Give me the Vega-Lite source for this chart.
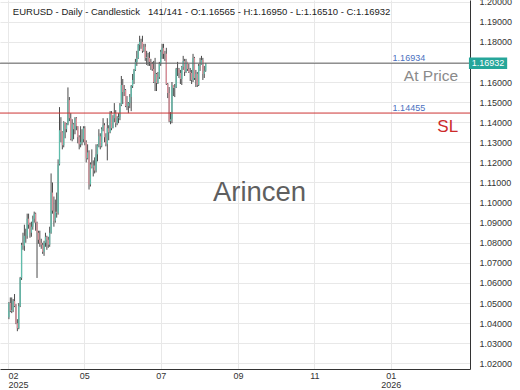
{
  "$schema": "https://vega.github.io/schema/vega-lite/v6.json",
  "width": 470,
  "height": 369,
  "autosize": {"type": "none"},
  "padding": {"left": 0, "top": 0, "right": 50, "bottom": 21},
  "background": "white",
  "config": {
    "font": "Liberation Sans",
    "view": {"stroke": null},
    "axisY": {"tickCount": 19, "labelOverlap": false, "labelSeparation": 0, "ticks": false, "labelPadding": 9, "labelFontSize": 9, "labelColor": "#333", "gridColor": "#e8e8e8", "domainColor": "#333", "title": null},
    "axisX": {"ticks": false, "labelFontSize": 9, "labelColor": "#333", "gridColor": "#e8e8e8", "domainColor": "#333", "labelPadding": 2, "labelOverlap": false, "title": null}
  },
  "datasets": {
    "candles": [
      {"i":0,"o":1.0430,"h":1.0505,"l":1.0420,"c":1.0500},
      {"i":1,"o":1.0500,"h":1.0528,"l":1.0455,"c":1.0460},
      {"i":2,"o":1.0460,"h":1.0528,"l":1.0450,"c":1.0465},
      {"i":3,"o":1.0465,"h":1.0520,"l":1.0455,"c":1.0510},
      {"i":4,"o":1.0510,"h":1.0545,"l":1.0480,"c":1.0485},
      {"i":5,"o":1.0485,"h":1.0495,"l":1.0395,"c":1.0400},
      {"i":6,"o":1.0400,"h":1.0420,"l":1.0360,"c":1.0375},
      {"i":7,"o":1.0375,"h":1.0500,"l":1.0370,"c":1.0485},
      {"i":8,"o":1.0485,"h":1.0630,"l":1.0480,"c":1.0625},
      {"i":9,"o":1.0625,"h":1.0800,"l":1.0615,"c":1.0790},
      {"i":10,"o":1.0790,"h":1.0850,"l":1.0765,"c":1.0785},
      {"i":11,"o":1.0785,"h":1.0890,"l":1.0760,"c":1.0835},
      {"i":12,"o":1.0835,"h":1.0870,"l":1.0800,"c":1.0835},
      {"i":13,"o":1.0835,"h":1.0945,"l":1.0820,"c":1.0920},
      {"i":14,"o":1.0920,"h":1.0945,"l":1.0870,"c":1.0890},
      {"i":15,"o":1.0890,"h":1.0900,"l":1.0825,"c":1.0850},
      {"i":16,"o":1.0850,"h":1.0905,"l":1.0830,"c":1.0880},
      {"i":17,"o":1.0880,"h":1.0935,"l":1.0865,"c":1.0920},
      {"i":18,"o":1.0920,"h":1.0955,"l":1.0900,"c":1.0945},
      {"i":19,"o":1.0945,"h":1.0950,"l":1.0860,"c":1.0900},
      {"i":20,"o":1.0900,"h":1.0905,"l":1.0625,"c":1.0850},
      {"i":21,"o":1.0850,"h":1.0860,"l":1.0795,"c":1.0815},
      {"i":22,"o":1.0815,"h":1.0860,"l":1.0780,"c":1.0800},
      {"i":23,"o":1.0800,"h":1.0820,"l":1.0770,"c":1.0790},
      {"i":24,"o":1.0790,"h":1.0800,"l":1.0745,"c":1.0755},
      {"i":25,"o":1.0755,"h":1.0810,"l":1.0735,"c":1.0800},
      {"i":26,"o":1.0800,"h":1.0850,"l":1.0780,"c":1.0830},
      {"i":27,"o":1.0830,"h":1.0835,"l":1.0765,"c":1.0815},
      {"i":28,"o":1.0815,"h":1.0830,"l":1.0775,"c":1.0790},
      {"i":29,"o":1.0790,"h":1.0880,"l":1.0780,"c":1.0850},
      {"i":30,"o":1.0850,"h":1.1145,"l":1.0845,"c":1.1050},
      {"i":31,"o":1.1050,"h":1.1100,"l":1.0945,"c":1.0960},
      {"i":32,"o":1.0960,"h":1.1030,"l":1.0880,"c":1.0910},
      {"i":33,"o":1.0910,"h":1.1015,"l":1.0900,"c":1.0955},
      {"i":34,"o":1.0955,"h":1.1050,"l":1.0925,"c":1.0950},
      {"i":35,"o":1.0950,"h":1.1215,"l":1.0940,"c":1.1190},
      {"i":36,"o":1.1190,"h":1.1475,"l":1.1185,"c":1.1360},
      {"i":37,"o":1.1360,"h":1.1425,"l":1.1300,"c":1.1350},
      {"i":38,"o":1.1350,"h":1.1355,"l":1.1265,"c":1.1285},
      {"i":39,"o":1.1285,"h":1.1405,"l":1.1275,"c":1.1400},
      {"i":40,"o":1.1400,"h":1.1400,"l":1.1320,"c":1.1365},
      {"i":41,"o":1.1365,"h":1.1395,"l":1.1350,"c":1.1390},
      {"i":42,"o":1.1390,"h":1.1573,"l":1.1385,"c":1.1510},
      {"i":43,"o":1.1510,"h":1.1525,"l":1.1405,"c":1.1420},
      {"i":44,"o":1.1420,"h":1.1445,"l":1.1310,"c":1.1315},
      {"i":45,"o":1.1315,"h":1.1415,"l":1.1305,"c":1.1390},
      {"i":46,"o":1.1390,"h":1.1395,"l":1.1315,"c":1.1365},
      {"i":47,"o":1.1365,"h":1.1425,"l":1.1340,"c":1.1420},
      {"i":48,"o":1.1420,"h":1.1425,"l":1.1360,"c":1.1380},
      {"i":49,"o":1.1380,"h":1.1380,"l":1.1295,"c":1.1325},
      {"i":50,"o":1.1325,"h":1.1335,"l":1.1265,"c":1.1290},
      {"i":51,"o":1.1290,"h":1.1380,"l":1.1275,"c":1.1300},
      {"i":52,"o":1.1300,"h":1.1365,"l":1.1285,"c":1.1315},
      {"i":53,"o":1.1315,"h":1.1380,"l":1.1300,"c":1.1370},
      {"i":54,"o":1.1370,"h":1.1380,"l":1.1285,"c":1.1300},
      {"i":55,"o":1.1300,"h":1.1310,"l":1.1200,"c":1.1220},
      {"i":56,"o":1.1220,"h":1.1290,"l":1.1215,"c":1.1250},
      {"i":57,"o":1.1250,"h":1.1260,"l":1.1065,"c":1.1090},
      {"i":58,"o":1.1090,"h":1.1200,"l":1.1080,"c":1.1190},
      {"i":59,"o":1.1190,"h":1.1265,"l":1.1170,"c":1.1175},
      {"i":60,"o":1.1175,"h":1.1210,"l":1.1130,"c":1.1185},
      {"i":61,"o":1.1185,"h":1.1225,"l":1.1145,"c":1.1160},
      {"i":62,"o":1.1160,"h":1.1290,"l":1.1150,"c":1.1240},
      {"i":63,"o":1.1240,"h":1.1290,"l":1.1205,"c":1.1285},
      {"i":64,"o":1.1285,"h":1.1365,"l":1.1275,"c":1.1330},
      {"i":65,"o":1.1330,"h":1.1345,"l":1.1265,"c":1.1280},
      {"i":66,"o":1.1280,"h":1.1375,"l":1.1275,"c":1.1365},
      {"i":67,"o":1.1365,"h":1.1420,"l":1.1355,"c":1.1385},
      {"i":68,"o":1.1385,"h":1.1395,"l":1.1300,"c":1.1325},
      {"i":69,"o":1.1325,"h":1.1345,"l":1.1280,"c":1.1290},
      {"i":70,"o":1.1290,"h":1.1420,"l":1.1210,"c":1.1370},
      {"i":71,"o":1.1370,"h":1.1385,"l":1.1310,"c":1.1350},
      {"i":72,"o":1.1350,"h":1.1455,"l":1.1345,"c":1.1445},
      {"i":73,"o":1.1445,"h":1.1455,"l":1.1360,"c":1.1370},
      {"i":74,"o":1.1370,"h":1.1435,"l":1.1370,"c":1.1420},
      {"i":75,"o":1.1420,"h":1.1495,"l":1.1400,"c":1.1445},
      {"i":76,"o":1.1445,"h":1.1460,"l":1.1375,"c":1.1395},
      {"i":77,"o":1.1395,"h":1.1430,"l":1.1385,"c":1.1420},
      {"i":78,"o":1.1420,"h":1.1445,"l":1.1395,"c":1.1425},
      {"i":79,"o":1.1425,"h":1.1495,"l":1.1410,"c":1.1485},
      {"i":80,"o":1.1485,"h":1.1630,"l":1.1480,"c":1.1585},
      {"i":81,"o":1.1585,"h":1.1615,"l":1.1490,"c":1.1550},
      {"i":82,"o":1.1550,"h":1.1585,"l":1.1530,"c":1.1560},
      {"i":83,"o":1.1560,"h":1.1565,"l":1.1475,"c":1.1480},
      {"i":84,"o":1.1480,"h":1.1530,"l":1.1460,"c":1.1480},
      {"i":85,"o":1.1480,"h":1.1500,"l":1.1445,"c":1.1495},
      {"i":86,"o":1.1495,"h":1.1540,"l":1.1470,"c":1.1525},
      {"i":87,"o":1.1525,"h":1.1585,"l":1.1455,"c":1.1580},
      {"i":88,"o":1.1580,"h":1.1640,"l":1.1570,"c":1.1610},
      {"i":89,"o":1.1610,"h":1.1665,"l":1.1590,"c":1.1660},
      {"i":90,"o":1.1660,"h":1.1715,"l":1.1655,"c":1.1700},
      {"i":91,"o":1.1700,"h":1.1755,"l":1.1680,"c":1.1720},
      {"i":92,"o":1.1720,"h":1.1790,"l":1.1715,"c":1.1785},
      {"i":93,"o":1.1785,"h":1.1830,"l":1.1755,"c":1.1800},
      {"i":94,"o":1.1800,"h":1.1815,"l":1.1765,"c":1.1800},
      {"i":95,"o":1.1800,"h":1.1830,"l":1.1745,"c":1.1755},
      {"i":96,"o":1.1755,"h":1.1790,"l":1.1750,"c":1.1775},
      {"i":97,"o":1.1775,"h":1.1790,"l":1.1705,"c":1.1720},
      {"i":98,"o":1.1720,"h":1.1755,"l":1.1685,"c":1.1725},
      {"i":99,"o":1.1725,"h":1.1745,"l":1.1680,"c":1.1720},
      {"i":100,"o":1.1720,"h":1.1750,"l":1.1680,"c":1.1700},
      {"i":101,"o":1.1700,"h":1.1715,"l":1.1660,"c":1.1690},
      {"i":102,"o":1.1690,"h":1.1700,"l":1.1655,"c":1.1665},
      {"i":103,"o":1.1665,"h":1.1705,"l":1.1595,"c":1.1600},
      {"i":104,"o":1.1600,"h":1.1720,"l":1.1555,"c":1.1640},
      {"i":105,"o":1.1640,"h":1.1645,"l":1.1555,"c":1.1595},
      {"i":106,"o":1.1595,"h":1.1650,"l":1.1590,"c":1.1625},
      {"i":107,"o":1.1625,"h":1.1700,"l":1.1615,"c":1.1690},
      {"i":108,"o":1.1690,"h":1.1760,"l":1.1680,"c":1.1750},
      {"i":109,"o":1.1750,"h":1.1790,"l":1.1715,"c":1.1770},
      {"i":110,"o":1.1770,"h":1.1790,"l":1.1715,"c":1.1740},
      {"i":111,"o":1.1740,"h":1.1755,"l":1.1705,"c":1.1740},
      {"i":112,"o":1.1740,"h":1.1770,"l":1.1585,"c":1.1590},
      {"i":113,"o":1.1590,"h":1.1595,"l":1.1520,"c":1.1545},
      {"i":114,"o":1.1545,"h":1.1575,"l":1.1400,"c":1.1405},
      {"i":115,"o":1.1405,"h":1.1450,"l":1.1390,"c":1.1415},
      {"i":116,"o":1.1415,"h":1.1600,"l":1.1395,"c":1.1585},
      {"i":117,"o":1.1585,"h":1.1585,"l":1.1530,"c":1.1570},
      {"i":118,"o":1.1570,"h":1.1590,"l":1.1525,"c":1.1575},
      {"i":119,"o":1.1575,"h":1.1670,"l":1.1570,"c":1.1665},
      {"i":120,"o":1.1665,"h":1.1700,"l":1.1630,"c":1.1665},
      {"i":121,"o":1.1665,"h":1.1670,"l":1.1620,"c":1.1645},
      {"i":122,"o":1.1645,"h":1.1660,"l":1.1590,"c":1.1615},
      {"i":123,"o":1.1615,"h":1.1680,"l":1.1585,"c":1.1675},
      {"i":124,"o":1.1675,"h":1.1730,"l":1.1660,"c":1.1705},
      {"i":125,"o":1.1705,"h":1.1715,"l":1.1630,"c":1.1650},
      {"i":126,"o":1.1650,"h":1.1715,"l":1.1645,"c":1.1700},
      {"i":127,"o":1.1700,"h":1.1700,"l":1.1655,"c":1.1665},
      {"i":128,"o":1.1665,"h":1.1690,"l":1.1645,"c":1.1650},
      {"i":129,"o":1.1650,"h":1.1670,"l":1.1605,"c":1.1645},
      {"i":130,"o":1.1645,"h":1.1660,"l":1.1590,"c":1.1610},
      {"i":131,"o":1.1610,"h":1.1740,"l":1.1600,"c":1.1720},
      {"i":132,"o":1.1720,"h":1.1725,"l":1.1610,"c":1.1620},
      {"i":133,"o":1.1620,"h":1.1660,"l":1.1575,"c":1.1640},
      {"i":134,"o":1.1640,"h":1.1650,"l":1.1575,"c":1.1585},
      {"i":135,"o":1.1585,"h":1.1690,"l":1.1580,"c":1.1680},
      {"i":136,"o":1.1680,"h":1.1720,"l":1.1655,"c":1.1685},
      {"i":137,"o":1.1685,"h":1.1730,"l":1.1685,"c":1.1710},
      {"i":138,"o":1.1710,"h":1.1720,"l":1.1610,"c":1.1640},
      {"i":139,"o":1.1640,"h":1.1680,"l":1.1620,"c":1.16565},
      {"i":140,"o":1.16565,"h":1.16950,"l":1.16510,"c":1.16932}
    ],
    "levels": [
      {"p": 1.16934, "kind": "at"},
      {"p": 1.14455, "kind": "sl"}
    ],
    "notes": [
      {"i": 2.8, "p": 1.1948, "t": "EURUSD - Daily - Candlestick", "kind": "title"},
      {"i": 98.9, "p": 1.1948, "t": "141/141 - O:1.16565 - H:1.16950 - L:1.16510 - C:1.16932", "kind": "title"},
      {"i": 273, "p": 1.17194, "t": "1.16934", "kind": "value"},
      {"i": 273, "p": 1.14706, "t": "1.14455", "kind": "value"},
      {"i": 319.6, "p": 1.16298, "t": "At Price", "kind": "at"},
      {"i": 319.6, "p": 1.13761, "t": "SL", "kind": "sl"},
      {"i": 178.3, "p": 1.10478, "t": "Arincen", "kind": "mark"},
      {"i": 340.9, "p": 1.16932, "t": "1.16932", "kind": "box", "i0": 327.3, "i1": 354.5, "p0": 1.16647, "p1": 1.17219}
    ]
  },
  "layer": [
    {
      "data": {"name": "candles"},
      "mark": {"type": "rule", "color": "#4a4a4a", "strokeWidth": 1},
      "encoding": {
        "x": {
          "field": "i", "type": "quantitative",
          "scale": {"domain": [-2.786, 324.5], "nice": false, "zero": false},
          "axis": {
            "title": null, "orient": "bottom", "values": [-0.7, 53.6, 108, 163, 217.3, 271.6],
            "labelExpr": "datum.value < 20 ? ['02','2025'] : datum.value < 80 ? '05' : datum.value < 130 ? '07' : datum.value < 190 ? '09' : datum.value < 240 ? '11' : ['01','2026']",
            "grid": true, "labelFlush": 8, "labelLineHeight": 9
          }
        },
        "y": {
          "field": "l", "type": "quantitative",
          "scale": {"domain": [1.0172, 1.2008], "nice": false, "zero": false},
          "axis": {
            "title": null, "orient": "right",
            "values": [1.02, 1.03, 1.04, 1.05, 1.06, 1.07, 1.08, 1.09, 1.10, 1.11, 1.12, 1.13, 1.14, 1.15, 1.16, 1.17, 1.18, 1.19, 1.20],
            "labelExpr": "abs(datum.value - 1.17) < 0.001 ? '' : format(datum.value, '.5f')",
            "grid": true, "tickCount": 19, "labelOverlap": false
          }
        },
        "y2": {"field": "h"}
      }
    },
    {
      "data": {"name": "candles"},
      "mark": {"type": "bar", "size": 1.3},
      "encoding": {
        "x": {"field": "i", "type": "quantitative"},
        "y": {"field": "o", "type": "quantitative"},
        "y2": {"field": "c"},
        "color": {"condition": {"test": "datum.c >= datum.o", "value": "#5fbcab"}, "value": "#dc8f99"}
      }
    },
    {
      "data": {"name": "levels"},
      "transform": [{"filter": "datum.kind == 'at'"}],
      "mark": {"type": "rule", "color": "#666", "strokeWidth": 1},
      "encoding": {"y": {"field": "p", "type": "quantitative"}}
    },
    {
      "data": {"name": "levels"},
      "transform": [{"filter": "datum.kind == 'sl'"}],
      "mark": {"type": "rule", "color": "#cc3333", "strokeWidth": 1},
      "encoding": {"y": {"field": "p", "type": "quantitative"}}
    },
    {
      "data": {"name": "notes"},
      "transform": [{"filter": "datum.kind == 'title'"}],
      "mark": {"type": "text", "align": "left", "baseline": "middle", "fontSize": 9.5, "color": "#222"},
      "encoding": {"x": {"field": "i", "type": "quantitative"}, "y": {"field": "p", "type": "quantitative"}, "text": {"field": "t"}}
    },
    {
      "data": {"name": "notes"},
      "transform": [{"filter": "datum.kind == 'value'"}],
      "mark": {"type": "text", "align": "left", "baseline": "middle", "fontSize": 9, "color": "#4a70c0"},
      "encoding": {"x": {"field": "i", "type": "quantitative"}, "y": {"field": "p", "type": "quantitative"}, "text": {"field": "t"}}
    },
    {
      "data": {"name": "notes"},
      "transform": [{"filter": "datum.kind == 'at'"}],
      "mark": {"type": "text", "align": "right", "baseline": "middle", "fontSize": 15.5, "color": "#8a8a8a"},
      "encoding": {"x": {"field": "i", "type": "quantitative"}, "y": {"field": "p", "type": "quantitative"}, "text": {"field": "t"}}
    },
    {
      "data": {"name": "notes"},
      "transform": [{"filter": "datum.kind == 'sl'"}],
      "mark": {"type": "text", "align": "right", "baseline": "middle", "fontSize": 17, "color": "#cc2a2a"},
      "encoding": {"x": {"field": "i", "type": "quantitative"}, "y": {"field": "p", "type": "quantitative"}, "text": {"field": "t"}}
    },
    {
      "data": {"name": "notes"},
      "transform": [{"filter": "datum.kind == 'mark'"}],
      "mark": {"type": "text", "align": "center", "baseline": "middle", "fontSize": 27.5, "color": "#5f5f5f"},
      "encoding": {"x": {"field": "i", "type": "quantitative"}, "y": {"field": "p", "type": "quantitative"}, "text": {"field": "t"}}
    },
    {
      "data": {"name": "notes"},
      "transform": [{"filter": "datum.kind == 'box'"}],
      "mark": {"type": "rect", "color": "#26a69a", "clip": false},
      "encoding": {"x": {"field": "i0", "type": "quantitative"}, "x2": {"field": "i1"}, "y": {"field": "p0", "type": "quantitative"}, "y2": {"field": "p1"}}
    },
    {
      "data": {"name": "notes"},
      "transform": [{"filter": "datum.kind == 'box'"}],
      "mark": {"type": "text", "align": "center", "baseline": "middle", "fontSize": 9, "color": "white"},
      "encoding": {"x": {"field": "i", "type": "quantitative"}, "y": {"field": "p", "type": "quantitative"}, "text": {"field": "t"}}
    }
  ]
}
